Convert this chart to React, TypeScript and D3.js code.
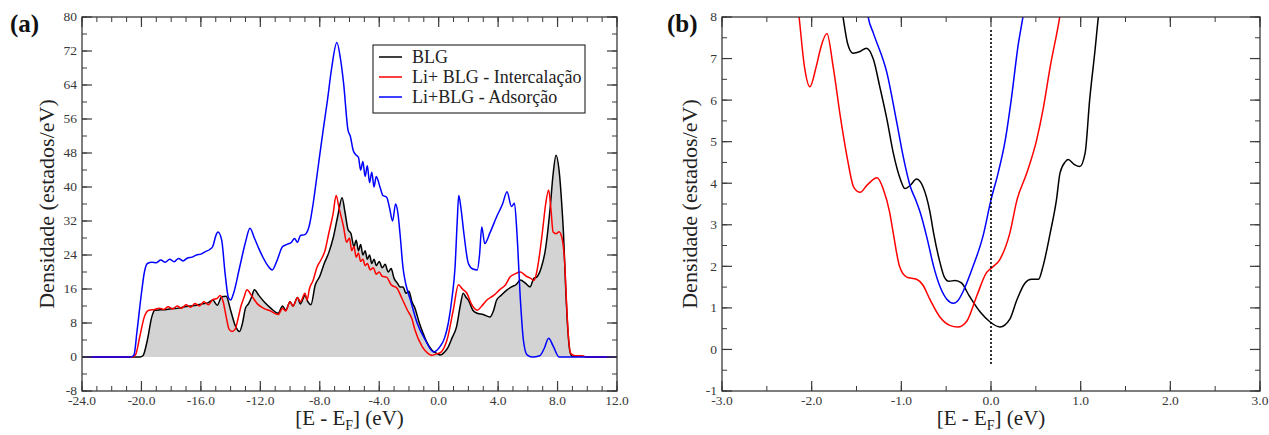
import React from "react";
import * as d3 from "d3";

type P = [number, number];

// ---------- Panel (a) data: [E - EF (eV), DOS (estados/eV)] ----------
const blgA: P[] = [
  [-24, 0], [-20.1, 0], [-19.9, 0.3], [-19.6, 4], [-19.3, 9.5], [-19.1, 11], [-18.7, 11.1], [-18.3, 11.2],
  [-17.9, 11.4], [-17.5, 11.5], [-17.1, 11.8], [-16.7, 12], [-16.3, 12.2], [-15.9, 12.5], [-15.5, 12.8],
  [-15.2, 13.4], [-14.9, 12.2], [-14.6, 14.2], [-14.3, 14.3], [-14.0, 11], [-13.7, 7.5], [-13.4, 6],
  [-13.2, 8], [-13.0, 11.5], [-12.8, 12.5], [-12.6, 14], [-12.4, 15.8], [-12.1, 14.5], [-11.7, 12.8],
  [-11.3, 11.5], [-10.8, 10.3], [-10.5, 12], [-10.3, 11], [-10.0, 13], [-9.8, 12], [-9.5, 14], [-9.3, 12.5],
  [-9.0, 14.5], [-8.8, 13], [-8.6, 12.3], [-8.3, 17], [-8.0, 19], [-7.7, 22], [-7.4, 24.5], [-7.1, 28],
  [-6.8, 33], [-6.5, 37.5], [-6.3, 34], [-6.1, 30], [-5.9, 29], [-5.7, 26], [-5.55, 27.5], [-5.4, 25],
  [-5.25, 26.5], [-5.1, 24], [-4.95, 25], [-4.8, 23], [-4.65, 24], [-4.5, 22], [-4.35, 23], [-4.2, 21.5],
  [-4.0, 22.5], [-3.8, 21], [-3.6, 21.8], [-3.4, 20], [-3.2, 20.8], [-3.0, 18.5], [-2.8, 17.5], [-2.6, 16.5],
  [-2.4, 16.5], [-2.2, 15], [-2.0, 15.5], [-1.8, 13], [-1.6, 11.5], [-1.3, 8], [-1.05, 5.6], [-0.8, 3.5],
  [-0.45, 1.6], [-0.1, 0.8], [0.1, 0.5], [0.4, 1.2], [0.65, 2.4], [0.9, 4.5], [1.2, 7.1], [1.45, 12],
  [1.65, 15], [1.85, 14], [2.0, 13.4], [2.3, 11], [2.6, 10.3], [3.0, 10], [3.45, 9.4], [3.7, 11], [3.9, 13.4],
  [4.2, 14.5], [4.6, 15.8], [4.9, 16.5], [5.2, 17], [5.5, 18.1], [5.8, 17.5], [6.15, 16.5], [6.4, 18.5],
  [6.6, 18.8], [6.9, 21], [7.17, 25], [7.5, 35], [7.7, 43], [7.9, 47.5], [8.1, 44], [8.3, 35], [8.4, 29],
  [8.55, 16], [8.7, 6], [8.85, 1], [9.0, 0.2], [9.5, 0.3], [10, 0], [12, 0],
];

const liIntA: P[] = [
  [-24, 0], [-20.6, 0], [-20.4, 0.5], [-20.1, 5], [-19.8, 9.5], [-19.5, 11], [-19.1, 11.2], [-18.8, 11.5],
  [-18.5, 11.2], [-18.2, 11.8], [-17.9, 11.3], [-17.6, 12], [-17.3, 11.5], [-17.0, 12.3], [-16.7, 11.7],
  [-16.4, 12.6], [-16.1, 12], [-15.8, 13], [-15.5, 12.3], [-15.2, 13.5], [-14.9, 13.8], [-14.7, 14.5],
  [-14.5, 13], [-14.3, 9.5], [-14.1, 6.5], [-13.9, 6], [-13.7, 6.5], [-13.5, 9], [-13.3, 12], [-13.1, 14],
  [-12.9, 15.8], [-12.6, 14.5], [-12.2, 12.5], [-11.8, 11.5], [-11.3, 10.8], [-10.8, 10], [-10.5, 11.5],
  [-10.3, 10.8], [-10.0, 13], [-9.8, 12], [-9.5, 14], [-9.3, 13], [-9.0, 15], [-8.85, 13.4], [-8.7, 16],
  [-8.45, 18], [-8.2, 21], [-7.9, 23], [-7.65, 25], [-7.4, 29], [-7.1, 33.8], [-6.9, 38], [-6.7, 35],
  [-6.4, 30.6], [-6.2, 27], [-6.0, 28], [-5.85, 25], [-5.7, 26], [-5.55, 23.5], [-5.4, 24.5], [-5.25, 22.5],
  [-5.1, 23], [-4.95, 21.5], [-4.8, 22], [-4.6, 20.5], [-4.4, 21], [-4.2, 19.5], [-4.0, 20], [-3.8, 19],
  [-3.5, 18.8], [-3.2, 17], [-2.8, 16.2], [-2.5, 14], [-2.1, 11], [-1.8, 9], [-1.6, 6.4], [-1.1, 2.4],
  [-0.7, 0.8], [-0.45, 0.4], [-0.1, 0.8], [0.1, 1], [0.56, 4], [0.98, 11], [1.33, 17], [1.6, 16], [1.9, 15],
  [2.2, 12.5], [2.6, 11], [2.9, 12], [3.25, 13.4], [3.7, 14.5], [4.1, 15.8], [4.5, 17], [4.8, 18.8],
  [5.1, 19.5], [5.5, 20], [5.9, 19], [6.2, 18.5], [6.4, 18], [6.6, 20], [6.8, 24.4], [7.0, 30], [7.2, 36],
  [7.4, 39.3], [7.55, 35], [7.7, 29.4], [7.9, 29], [8.1, 29.5], [8.3, 28], [8.5, 21], [8.6, 13], [8.75, 4],
  [8.9, 0.8], [9.2, 0.3], [9.6, 0.3], [10, 0], [12, 0],
];

const liAdsA: P[] = [
  [-24, 0], [-20.7, 0], [-20.5, 0.5], [-20.3, 6], [-20.0, 15], [-19.8, 20], [-19.6, 22], [-19.3, 22.3],
  [-19.0, 22.2], [-18.7, 22.8], [-18.4, 22.3], [-18.1, 23], [-17.8, 22.4], [-17.5, 23.2], [-17.2, 22.6],
  [-16.9, 23.3], [-16.6, 23.5], [-16.3, 24], [-16.0, 24.2], [-15.7, 24.8], [-15.4, 25.3], [-15.2, 26],
  [-15.0, 28.5], [-14.85, 29.4], [-14.6, 27.5], [-14.37, 19.6], [-14.15, 14], [-14.0, 13.4], [-13.8, 15],
  [-13.4, 21], [-13.0, 27], [-12.7, 30.3], [-12.4, 28], [-12.1, 25.5], [-11.8, 23.3], [-11.5, 21.5],
  [-11.2, 20.5], [-10.9, 22.5], [-10.5, 26], [-10.2, 26.5], [-9.9, 27], [-9.7, 27.9], [-9.5, 27],
  [-9.3, 28.6], [-9.0, 28.8], [-8.7, 31], [-8.45, 36], [-8.1, 45], [-7.8, 52.7], [-7.5, 60], [-7.2, 68],
  [-6.85, 74], [-6.6, 70], [-6.4, 64.5], [-6.1, 53.4], [-5.95, 52], [-5.75, 48.6], [-5.55, 47.5], [-5.4, 47],
  [-5.25, 44], [-5.1, 46], [-4.95, 42.5], [-4.8, 45], [-4.65, 41], [-4.5, 43.5], [-4.35, 40], [-4.2, 42.5],
  [-3.95, 40], [-3.75, 38], [-3.5, 37.6], [-3.3, 35], [-3.1, 32], [-2.9, 36], [-2.75, 34], [-2.6, 29],
  [-2.4, 21], [-2.2, 17], [-1.9, 13.4], [-1.45, 8], [-0.9, 4], [-0.35, 1.2], [0.1, 2.5], [0.4, 4.5],
  [0.65, 8], [0.9, 14], [1.1, 21], [1.25, 32], [1.35, 38], [1.5, 35], [1.7, 29], [2.0, 22], [2.3, 20.7],
  [2.6, 20.5], [2.75, 24], [2.9, 30.6], [3.1, 26.7], [3.45, 29.2], [3.9, 33], [4.3, 36], [4.6, 38.9],
  [4.9, 35.4], [5.1, 36.2], [5.27, 29], [5.5, 13.4], [5.7, 4], [5.95, 0.5], [6.3, 0], [6.8, 0.3], [7.1, 2],
  [7.4, 4.4], [7.7, 2.6], [8.1, 0], [12, 0],
];

// ---------- Panel (b) data ----------
const blgB: P[] = [
  [-1.7, 8.8], [-1.65, 8.0], [-1.6, 7.37], [-1.54, 7.13], [-1.46, 7.17], [-1.39, 7.25], [-1.31, 6.97],
  [-1.24, 6.32], [-1.16, 5.53], [-1.09, 4.73], [-1.01, 4.09], [-0.96, 3.87], [-0.9, 3.95], [-0.83, 4.1],
  [-0.76, 3.92], [-0.68, 3.3], [-0.64, 2.8], [-0.57, 2.1], [-0.52, 1.74], [-0.47, 1.64], [-0.4, 1.66],
  [-0.33, 1.6], [-0.24, 1.28], [-0.12, 0.9], [-0.01, 0.66], [0.1, 0.54], [0.21, 0.73], [0.29, 1.2],
  [0.38, 1.6], [0.45, 1.69], [0.53, 1.69], [0.58, 2.0], [0.66, 2.8], [0.73, 3.6], [0.77, 4.25], [0.83, 4.52],
  [0.86, 4.57], [0.93, 4.45], [0.99, 4.4], [1.05, 4.73], [1.1, 6.0], [1.16, 7.2], [1.2, 8.05], [1.25, 8.8],
];

const liIntB: P[] = [
  [-2.18, 8.8], [-2.14, 8.0], [-2.08, 6.8], [-2.02, 6.32], [-1.95, 6.8], [-1.9, 7.25], [-1.83, 7.6],
  [-1.76, 6.8], [-1.68, 5.6], [-1.6, 4.57], [-1.53, 3.9], [-1.46, 3.78], [-1.38, 3.96], [-1.27, 4.13],
  [-1.2, 3.85], [-1.13, 3.3], [-1.09, 2.8], [-1.02, 2.0], [-0.94, 1.74], [-0.83, 1.69], [-0.76, 1.55],
  [-0.68, 1.2], [-0.57, 0.78], [-0.46, 0.58], [-0.37, 0.54], [-0.27, 0.68], [-0.16, 1.28], [-0.05, 1.85],
  [0.0, 1.95], [0.1, 2.17], [0.21, 2.8], [0.29, 3.6], [0.4, 4.25], [0.51, 5.05], [0.58, 5.77], [0.66, 6.8],
  [0.77, 8.05], [0.82, 8.8],
];

const liAdsB: P[] = [
  [-1.42, 8.8], [-1.37, 8.0], [-1.31, 7.6], [-1.16, 6.65], [-1.05, 5.45], [-0.98, 4.65], [-0.9, 3.92],
  [-0.84, 3.6], [-0.79, 3.3], [-0.71, 2.65], [-0.64, 2.0], [-0.57, 1.52], [-0.49, 1.2], [-0.42, 1.11],
  [-0.36, 1.2], [-0.31, 1.4], [-0.2, 2.0], [-0.09, 2.72], [0.0, 3.6], [0.08, 4.25], [0.16, 5.05],
  [0.23, 6.08], [0.3, 7.28], [0.36, 8.05], [0.4, 8.6],
];

const fermiLineB: P[] = [[0, -0.35], [0, 7.7]];

// ---------- Ticks / labels ----------
const xTicksA = [-24, -20, -16, -12, -8, -4, 0, 4, 8, 12];
const yTicksA = [-8, 0, 8, 16, 24, 32, 40, 48, 56, 64, 72, 80];
const xTicksB = [-3, -2, -1, 0, 1, 2, 3];
const yTicksB = [-1, 0, 1, 2, 3, 4, 5, 6, 7, 8];
const legendLabels = ["BLG", "Li+ BLG - Intercalação", "Li+BLG - Adsorção"];
const seriesColors = ["#000000", "#ff0000", "#0000ff"];
const panelLabels = ["(a)", "(b)"];
const yTitle = "Densidade (estados/eV)";

const FONT = "'Liberation Serif', 'Times New Roman', Times, serif";
const AXIS = "#3a3a3a";

interface PanelProps {
  id: string;
  left: number;
  top: number;
  right: number;
  bottom: number;
  xDomain: [number, number];
  yDomain: [number, number];
  xTicks: number[];
  yTicks: number[];
  xMinor: number;
  yMinor: number;
  series: P[][];
  fillSeries?: P[];
  dotted?: P[];
  label: string;
  labelX: number;
  yTitleX: number;
  legend?: boolean;
}

function range(a: number, b: number, step: number): number[] {
  const out: number[] = [];
  const n = Math.round((b - a) / step);
  for (let i = 0; i <= n; i++) out.push(+(a + i * step).toFixed(6));
  return out;
}

function Panel(p: PanelProps) {
  const x = d3.scaleLinear().domain(p.xDomain).range([p.left, p.right]);
  const y = d3.scaleLinear().domain(p.yDomain).range([p.bottom, p.top]);
  const line = d3
    .line<P>()
    .x((d) => x(d[0]))
    .y((d) => y(d[1]))
    .curve(d3.curveMonotoneX);
  const area = d3
    .area<P>()
    .x((d) => x(d[0]))
    .y0(y(0))
    .y1((d) => y(d[1]))
    .curve(d3.curveMonotoneX);
  const xMinorTicks = range(p.xDomain[0], p.xDomain[1], p.xMinor);
  const yMinorTicks = range(p.yDomain[0], p.yDomain[1], p.yMinor);
  const maj = 10;
  const min = 5;
  const cx = (p.left + p.right) / 2;
  const cy = (p.top + p.bottom) / 2;
  return (
    <g>
      <defs>
        <clipPath id={"clip-" + p.id}>
          <rect x={p.left} y={p.top} width={p.right - p.left} height={p.bottom - p.top} />
        </clipPath>
      </defs>
      <g clipPath={`url(#clip-${p.id})`}>
        {p.fillSeries && <path d={area(p.fillSeries) || ""} fill="#d3d3d3" stroke="none" />}
        {p.series.map((s, i) => (
          <path key={i} d={line(s) || ""} fill="none" stroke={seriesColors[i]} strokeWidth={1.5} />
        ))}
        {p.dotted && (
          <line
            x1={x(p.dotted[0][0])}
            x2={x(p.dotted[1][0])}
            y1={y(p.dotted[0][1])}
            y2={y(p.dotted[1][1])}
            stroke="#000"
            strokeWidth={1.6}
            strokeDasharray="2,2"
          />
        )}
      </g>
      {xMinorTicks.map((t) => (
        <g key={"xm" + t} stroke={AXIS} strokeWidth={1}>
          <line x1={x(t)} x2={x(t)} y1={p.bottom} y2={p.bottom - min} />
          <line x1={x(t)} x2={x(t)} y1={p.top} y2={p.top + min} />
        </g>
      ))}
      {yMinorTicks.map((t) => (
        <g key={"ym" + t} stroke={AXIS} strokeWidth={1}>
          <line x1={p.left} x2={p.left + min} y1={y(t)} y2={y(t)} />
          <line x1={p.right} x2={p.right - min} y1={y(t)} y2={y(t)} />
        </g>
      ))}
      {p.xTicks.map((t) => (
        <g key={"x" + t}>
          <line x1={x(t)} x2={x(t)} y1={p.bottom} y2={p.bottom - maj} stroke={AXIS} strokeWidth={1.2} />
          <line x1={x(t)} x2={x(t)} y1={p.top} y2={p.top + maj} stroke={AXIS} strokeWidth={1.2} />
          <text x={x(t)} y={p.bottom + 14} textAnchor="middle" fontSize={13.5} fill="#383838" fontFamily={FONT}>
            {t.toFixed(1)}
          </text>
        </g>
      ))}
      {p.yTicks.map((t) => (
        <g key={"y" + t}>
          <line x1={p.left} x2={p.left + maj} y1={y(t)} y2={y(t)} stroke={AXIS} strokeWidth={1.2} />
          <line x1={p.right} x2={p.right - maj} y1={y(t)} y2={y(t)} stroke={AXIS} strokeWidth={1.2} />
          <text x={p.left - 5} y={y(t)} dy="0.33em" textAnchor="end" fontSize={13.5} fill="#383838" fontFamily={FONT}>
            {String(t)}
          </text>
        </g>
      ))}
      <rect
        x={p.left}
        y={p.top}
        width={p.right - p.left}
        height={p.bottom - p.top}
        fill="none"
        stroke={AXIS}
        strokeWidth={1.3}
      />
      <text
        transform={`translate(${p.yTitleX},${cy}) rotate(-90)`}
        textAnchor="middle"
        fontSize={22}
        fill="#222"
        fontFamily={FONT}
      >
        {yTitle}
      </text>
      <text x={cx} y={425} textAnchor="middle" fontSize={21} fill="#222" fontFamily={FONT}>
        [E - E
        <tspan fontSize={14} dy={5}>
          F
        </tspan>
        <tspan dy={-5}>] (eV)</tspan>
      </text>
      <text x={p.labelX} y={32} fontSize={25} fontWeight="bold" fill="#111" fontFamily={FONT}>
        {p.label}
      </text>
      {p.legend && (
        <g fontFamily={FONT}>
          <rect x={373} y={45} width={212} height={68} fill="#fff" stroke="#333" strokeWidth={1.2} />
          {legendLabels.map((l, i) => (
            <g key={l}>
              <line x1={379} x2={402} y1={57 + i * 20} y2={57 + i * 20} stroke={seriesColors[i]} strokeWidth={1.5} />
              <text x={412} y={57 + i * 20} dy="0.35em" fontSize={18} fill="#222">
                {l}
              </text>
            </g>
          ))}
        </g>
      )}
    </g>
  );
}

export default function App() {
  return (
    <svg
      width={1269}
      height={435}
      style={{ position: "absolute", left: 0, top: 0, background: "#fff" }}
    >
      <rect x={0} y={0} width={1269} height={435} fill="#fff" />
      <Panel
        id="a"
        left={82}
        top={17}
        right={617}
        bottom={391}
        xDomain={[-24, 12]}
        yDomain={[-8, 80]}
        xTicks={xTicksA}
        yTicks={yTicksA}
        xMinor={1}
        yMinor={4}
        series={[blgA, liIntA, liAdsA]}
        fillSeries={blgA}
        label={panelLabels[0]}
        labelX={10}
        yTitleX={54}
        legend
      />
      <Panel
        id="b"
        left={722}
        top={17}
        right={1260}
        bottom={391}
        xDomain={[-3, 3]}
        yDomain={[-1, 8]}
        xTicks={xTicksB}
        yTicks={yTicksB}
        xMinor={0.5}
        yMinor={0.5}
        series={[blgB, liIntB, liAdsB]}
        dotted={fermiLineB}
        label={panelLabels[1]}
        labelX={667}
        yTitleX={697}
      />
    </svg>
  );
}
